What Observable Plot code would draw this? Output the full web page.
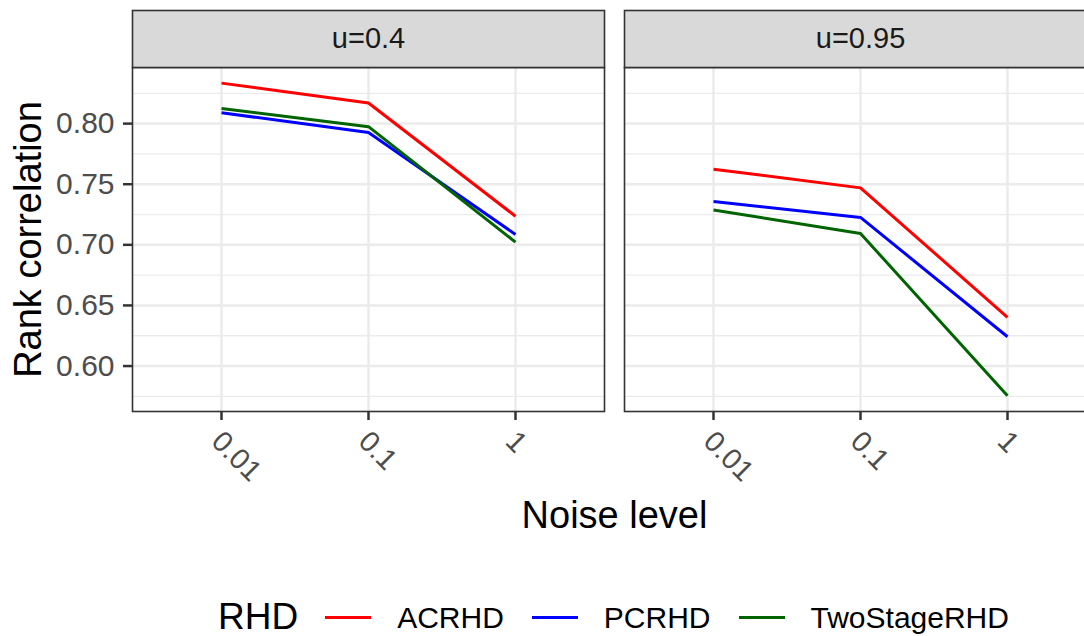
<!DOCTYPE html>
<html>
<head>
<meta charset="utf-8">
<script src="https://cdn.jsdelivr.net/npm/d3@7"></script>
<script src="https://cdn.jsdelivr.net/npm/@observablehq/plot@0.6"></script>
<style>
  html, body { margin: 0; padding: 0; overflow: hidden; background: white; width: 1084px; height: 636px; }
  #chart { position: absolute; left: 0; top: 0; }
  #legend { position: absolute; left: 218px; top: 597px; display: flex; align-items: center; font-family: "Liberation Sans", Arial, sans-serif; white-space: nowrap; line-height: 1.1; }
  #legend .title { font-size: 37px; color: #000; margin-right: 27px; }
  #legend .sw { width: 46px; height: 3px; margin-right: 26px; }
  #legend .lab { font-size: 30px; color: #000; margin-right: 28px; }
</style>
</head>
<body>
<div id="chart"></div>
<div id="legend"></div>
<script>
// ---- data ----
const noiseLevels = ["0.01", "0.1", "1"];
const facetLabels = ["u=0.4", "u=0.95"];
const methods = ["ACRHD", "PCRHD", "TwoStageRHD"];
const methodColors = ["#FF0000", "#0000FF", "#006400"];

const acrhd_u04 = [0.8334, 0.8170, 0.7236];
const pcrhd_u04 = [0.8090, 0.7926, 0.7086];
const twostage_u04 = [0.8124, 0.7975, 0.7022];

const acrhd_u095 = [0.7624, 0.7470, 0.6402];
const pcrhd_u095 = [0.7357, 0.7226, 0.6242];
const twostage_u095 = [0.7288, 0.7094, 0.5754];

const yMajorTicks = [0.60, 0.65, 0.70, 0.75, 0.80];
const yMinorTicks = [0.575, 0.625, 0.675, 0.725, 0.775, 0.825];

const legendTitle = "RHD";
const xTitle = "Noise level";
const yTitle = "Rank correlation";

// ---- tidy rows ----
const series = [
  ["u=0.4", "ACRHD", acrhd_u04], ["u=0.4", "PCRHD", pcrhd_u04], ["u=0.4", "TwoStageRHD", twostage_u04],
  ["u=0.95", "ACRHD", acrhd_u095], ["u=0.95", "PCRHD", pcrhd_u095], ["u=0.95", "TwoStageRHD", twostage_u095]
];
const rows = [];
for (const [u, m, vals] of series) vals.forEach((v, i) => rows.push({u, method: m, noise: noiseLevels[i], value: v}));

const allVals = rows.map(d => d.value);
const lo = d3.min(allVals), hi = d3.max(allVals), pad = (hi - lo) * 0.05;

const W = 1096, H = 560, mL = 132, mT = 67, mB = 149;
const panelH = H - mT - mB;
const gap = 20;
const step = (W - mL + gap) / 2;

const plot = Plot.plot({
  width: W, height: H,
  marginLeft: mL, marginRight: 0, marginTop: mT, marginBottom: mB,
  style: "max-width:none; overflow:visible; background:white; font-family:'Liberation Sans', Arial, sans-serif;",
  fx: {domain: facetLabels, paddingInner: gap / step, paddingOuter: 0, axis: null, label: null},
  x: {type: "point", domain: noiseLevels, padding: 0.6, label: null},
  y: {domain: [lo - pad, hi + pad], label: null},
  color: {domain: methods, range: methodColors},
  marks: [
    Plot.frame({fill: "white"}),
    Plot.gridY(yMinorTicks, {stroke: "#EBEBEB", strokeOpacity: 1, strokeWidth: 1.3}),
    Plot.gridY(yMajorTicks, {stroke: "#EBEBEB", strokeOpacity: 1, strokeWidth: 2.5}),
    Plot.gridX(noiseLevels, {stroke: "#EBEBEB", strokeOpacity: 1, strokeWidth: 2.5}),
    Plot.line(rows, {fx: "u", x: "noise", y: "value", stroke: "method", z: "method", strokeWidth: 3, strokeLinecap: "butt"}),
    Plot.frame({stroke: "#333333", strokeWidth: 1.6}),
    Plot.frame({fill: "#D9D9D9", stroke: "#333333", strokeWidth: 1.6, insetTop: -57, insetBottom: panelH}),
    Plot.text(facetLabels, {fx: d => d, text: d => d, frameAnchor: "top", lineAnchor: "middle", dy: -29, fontSize: 29, fill: "#1A1A1A"}),
    Plot.axisY(yMajorTicks, {tickFormat: d3.format(".2f"), fontSize: 30, tickSize: 9, tickPadding: 9, stroke: "#333333", strokeWidth: 2.5, fill: "#4D4D4D", label: null}),
    // x tick marks
    Plot.axisX(noiseLevels, {tickFormat: () => "", tickSize: 9, stroke: "#333333", strokeWidth: 2.5, label: null}),
    // x tick labels, rotated
    Plot.axisX(noiseLevels, {tickRotate: 45, fontSize: 29, tickSize: 0, tickPadding: 25, dx: -5, fill: "#4D4D4D", label: null}),
    Plot.text([yTitle], {fx: () => "u=0.4", text: d => d, frameAnchor: "left", textAnchor: "middle", lineAnchor: "middle", dx: -104, rotate: -90, fontSize: 38, fill: "#000"}),
    Plot.text([xTitle], {fx: () => "u=0.4", text: d => d, frameAnchor: "bottom-right", textAnchor: "middle", lineAnchor: "middle", dx: gap / 2, dy: 104, fontSize: 38, fill: "#000"})
  ]
});
document.getElementById("chart").appendChild(plot);

// ---- legend (colors from the plot's color scale) ----
const color = plot.scale("color");
const legend = document.getElementById("legend");
const t = document.createElement("span");
t.className = "title"; t.textContent = legendTitle; legend.appendChild(t);
color.domain.forEach((m, i) => {
  const sw = document.createElement("span");
  sw.className = "sw"; sw.style.background = color.range[i];
  legend.appendChild(sw);
  const lab = document.createElement("span");
  lab.className = "lab"; lab.textContent = m;
  legend.appendChild(lab);
});
</script>
</body>
</html>
